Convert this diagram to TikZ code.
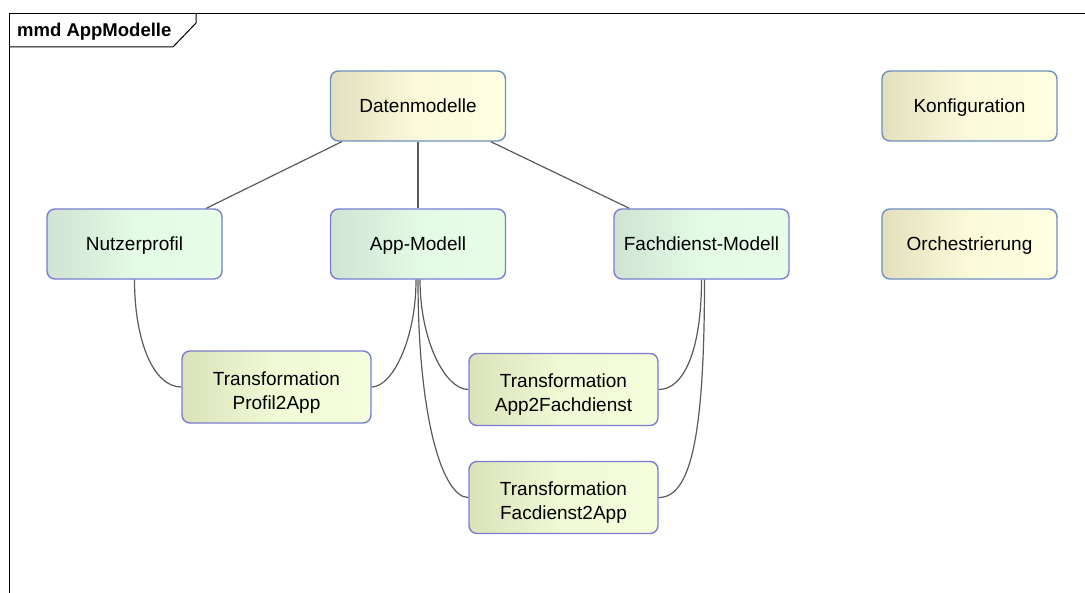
\documentclass[tikz,border=0pt]{standalone}
\usepackage{fontspec}
\setmainfont{Liberation Sans}
\usetikzlibrary{calc}

\definecolor{edgegray}{HTML}{5A5A5A}
\definecolor{pkgborder}{HTML}{6F8FC0}
\definecolor{pkgleft}{HTML}{E2E0BC}
\definecolor{pkgmid}{HTML}{FAFADB}
\definecolor{pkgright}{HTML}{FEFEE2}
\definecolor{clsborder}{HTML}{7B7ED0}
\definecolor{mdlleft}{HTML}{CFE4D2}
\definecolor{mdlmid}{HTML}{E3FAE4}
\definecolor{mdlright}{HTML}{E8FDE8}
\definecolor{trfleft}{HTML}{DAE2B8}
\definecolor{trfmid}{HTML}{F0FAD6}
\definecolor{trfright}{HTML}{F4FDDC}

\tikzset{
  box/.style={rounded corners=8bp, minimum width=175bp, minimum height=70bp,
    inner sep=0pt, line width=1.4bp, font=\fontsize{19bp}{24bp}\selectfont},
  oneline/.style={text height=13.6bp, text depth=0pt},
  pkgbox/.style={box, oneline, draw=pkgborder, left color=pkgleft, right color=pkgright, middle color=pkgmid},
  mdlbox/.style={box, oneline, draw=clsborder, left color=mdlleft, right color=mdlright, middle color=mdlmid},
  trfbox/.style={box, minimum width=189bp, minimum height=72bp, align=center,
    draw=clsborder, left color=trfleft, right color=trfright, middle color=trfmid},
  link/.style={draw=edgegray, line width=1.2bp},
  frameline/.style={draw=black, line width=1bp}
}

\begin{document}
\begin{tikzpicture}[x=1bp, y=-1bp]
\useasboundingbox[fill=white] (0,0) rectangle (1085,593);

% diagram frame and its name tab
\draw[frameline] (9,593) -- (9,14) -- (1085,14);
\draw[frameline] (9,47) -- (173,47) -- (196,23) -- (196,14);
\node[anchor=base west, inner sep=0pt, font=\fontsize{18.5bp}{22bp}\selectfont\bfseries] (title) at (17,37) {mmd AppModelle};

% packages
\node[pkgbox] (dm) at (418,106) {Datenmodelle};
\node[pkgbox] (kf) at (969.5,106) {Konfiguration};
\node[pkgbox] (or) at (969.5,244) {Orchestrierung};

% models
\node[mdlbox] (nu) at (134.5,244) {Nutzerprofil};
\node[mdlbox] (am) at (418,244) {App-Modell};
\node[mdlbox] (fd) at (701.5,244) {Fachdienst-Modell};

% transformations
\node[trfbox] (p2a) at (276.5,387) {\rule{0pt}{24bp}Transformation\\Profil2App};
\node[trfbox] (a2f) at (563.5,389.5) {\rule{0pt}{24bp}Transformation\\App2Fachdienst};
\node[trfbox] (f2a) at (563.5,497.5) {\rule{0pt}{24bp}Transformation\\Facdienst2App};

% containment lines
\draw[link] ([xshift=12bp]dm.south west) -- ([xshift=160bp]nu.north west);
\draw[link] (dm.south) -- (am.north);
\draw[link] ([xshift=161bp]dm.south west) -- ([xshift=16bp]fd.north west);

% transformation links
\draw[link] (nu.south) .. controls (134.5,340) and (153,387) .. (p2a.west);
\draw[link] ([xshift=-2bp]am.south) .. controls (416,340) and (392,387) .. (p2a.east);
\draw[link] ([xshift=2bp]am.south) .. controls (420,340) and (445,389.5) .. (a2f.west);
\draw[link] (am.south) .. controls (418,420) and (443,497.5) .. (f2a.west);
\draw[link] (fd.south) .. controls (701.5,350) and (684,389.5) .. (a2f.east);
\draw[link] ([xshift=3bp]fd.south) .. controls (704.5,440) and (690,497.5) .. (f2a.east);
\end{tikzpicture}
\end{document}
